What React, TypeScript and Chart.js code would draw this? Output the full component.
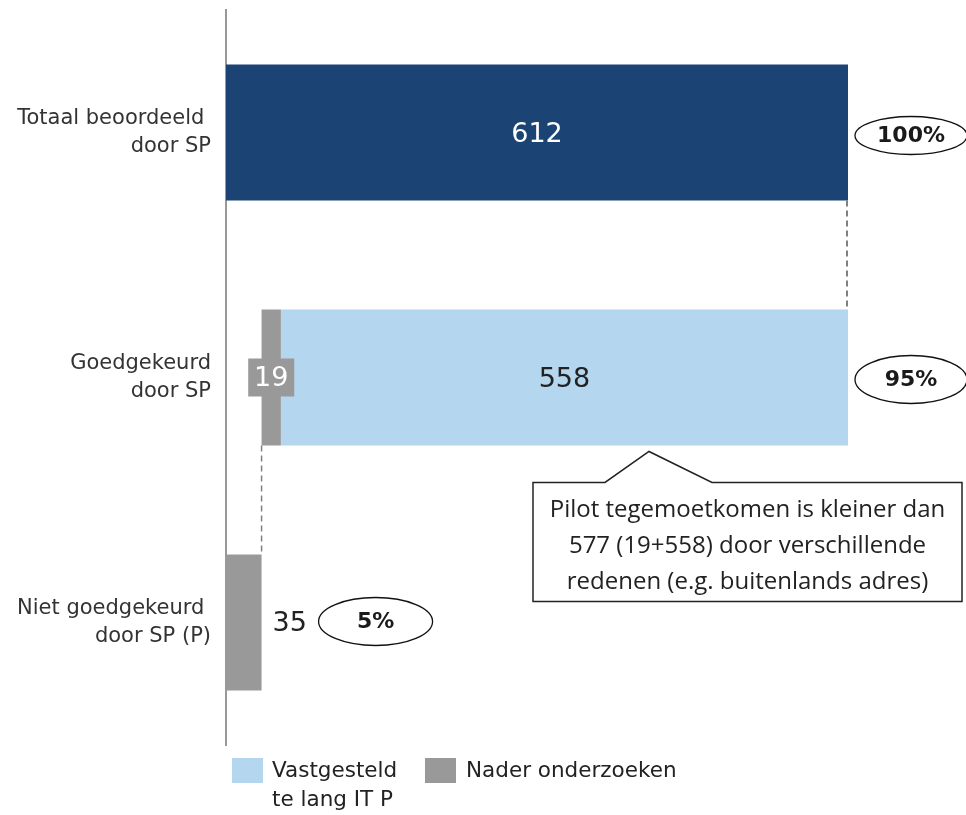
import React, { useEffect, useRef } from "react";
import { Chart, registerables } from "chart.js";

Chart.register(...registerables);

const categories: string[][] = [
  ["Totaal beoordeeld ", "door SP"],
  ["Goedgekeurd", "door SP"],
  ["Niet goedgekeurd ", "door SP (P)"],
];
const offsetValues = [null, 35, null];
const naderValues = [null, 19, 35];
const vastgesteldValues = [null, 558, null];
const totaalValues = [612, null, null];
const pctLabels = ["100%", "95%", "5%"];
const legendLabels = [["Vastgesteld", "te lang IT P"], ["Nader onderzoeken"]];
const calloutLines = [
  "Pilot tegemoetkomen is kleiner dan",
  "577 (19+558) door verschillende",
  "redenen (e.g. buitenlands adres)",
];

const NAVY = "#1b4373";
const LIGHT = "#b4d6ee";
const GRAY = "#999999";
const FONT = "'DejaVu Sans', Verdana, sans-serif";

const overlayPlugin = {
  id: "overlay",
  afterDatasetsDraw(chart: any) {
    const ctx = chart.ctx;
    const x = chart.scales.x;
    const metaNader = chart.getDatasetMeta(1);
    const metaVast = chart.getDatasetMeta(2);
    const metaTot = chart.getDatasetMeta(3);
    const bTot = metaTot.data[0];
    const bVast = metaVast.data[1];
    const bN1 = metaNader.data[1];
    const bN2 = metaNader.data[2];
    const half = (b: any) => b.height / 2;

    ctx.save();
    // dashed connectors
    ctx.strokeStyle = "#808080";
    ctx.setLineDash([6, 4]);
    ctx.lineWidth = 2;
    const xTot = x.getPixelForValue(totaalValues[0] as number);
    ctx.beginPath();
    ctx.moveTo(xTot - 1, bTot.y + half(bTot));
    ctx.lineTo(xTot - 1, bVast.y - half(bVast));
    ctx.stroke();
    ctx.lineWidth = 1.5;
    const xOff = x.getPixelForValue(offsetValues[1] as number);
    ctx.beginPath();
    ctx.moveTo(xOff, bN1.y + half(bN1));
    ctx.lineTo(xOff, bN2.y - half(bN2));
    ctx.stroke();
    ctx.setLineDash([]);

    // value labels
    ctx.textBaseline = "middle";
    ctx.textAlign = "center";
    ctx.font = `27px ${FONT}`;
    ctx.fillStyle = "#ffffff";
    ctx.fillText(String(totaalValues[0]), (bTot.x + bTot.base) / 2, bTot.y + 2);
    ctx.fillStyle = "#222";
    ctx.fillText(String(vastgesteldValues[1]), (bVast.x + bVast.base) / 2, bVast.y + 2);
    // 19 box
    const cx19 = (bN1.x + bN1.base) / 2;
    ctx.fillStyle = GRAY;
    ctx.fillRect(cx19 - 23, bN1.y - 19, 46, 38);
    ctx.fillStyle = "#ffffff";
    ctx.fillText(String(naderValues[1]), cx19, bN1.y + 1);
    // 35
    ctx.textAlign = "left";
    ctx.fillStyle = "#222";
    ctx.fillText(String(naderValues[2]), bN2.x + 11, bN2.y + 1);

    // ellipses
    const ell = (cx: number, cy: number, rx: number, ry: number, t: string) => {
      ctx.beginPath();
      ctx.ellipse(cx, cy, rx, ry, 0, 0, Math.PI * 2);
      ctx.fillStyle = "#fff";
      ctx.fill();
      ctx.strokeStyle = "#111";
      ctx.lineWidth = 1.3;
      ctx.stroke();
      ctx.fillStyle = "#1a1a1a";
      ctx.textAlign = "center";
      ctx.font = `bold 22px ${FONT}`;
      ctx.fillText(t, cx, cy + 1);
    };
    ell(bTot.x + 63, bTot.y + 3, 56, 19, pctLabels[0]);
    ell(bVast.x + 63, bVast.y + 2, 56, 24, pctLabels[1]);
    ell(bN2.x + 114, bN2.y - 1, 57, 24, pctLabels[2]);

    // callout
    const top = bVast.y + half(bVast) + 37;
    const bottom = top + 119;
    const left = 533;
    const right = 962;
    ctx.beginPath();
    ctx.moveTo(left, top);
    ctx.lineTo(605, top);
    ctx.lineTo(649, bVast.y + half(bVast) + 6);
    ctx.lineTo(712, top);
    ctx.lineTo(right, top);
    ctx.lineTo(right, bottom);
    ctx.lineTo(left, bottom);
    ctx.closePath();
    ctx.fillStyle = "#fff";
    ctx.fill();
    ctx.strokeStyle = "#222";
    ctx.lineWidth = 1.5;
    ctx.stroke();
    ctx.fillStyle = "#222";
    ctx.font = `24px 'Open Sans', 'Noto Sans', sans-serif`;
    ctx.textAlign = "center";
    calloutLines.forEach((l, i) => {
      ctx.fillText(l, (left + right) / 2, top + 28 + i * 36);
    });

    // legend
    const ly = chart.chartArea.bottom + 13;
    ctx.font = `21.5px ${FONT}`;
    ctx.textAlign = "left";
    ctx.fillStyle = LIGHT;
    ctx.fillRect(232, ly, 31, 25);
    ctx.fillStyle = "#222";
    legendLabels[0].forEach((l, i) => ctx.fillText(l, 272, ly + 13 + i * 29));
    ctx.fillStyle = GRAY;
    ctx.fillRect(425, ly, 31, 25);
    ctx.fillStyle = "#222";
    legendLabels[1].forEach((l, i) => ctx.fillText(l, 466, ly + 13 + i * 29));
    ctx.restore();
  },
};

export default function App() {
  const ref = useRef<HTMLCanvasElement>(null);
  useEffect(() => {
    if (!ref.current) return;
    const chart = new Chart(ref.current, {
      type: "bar",
      data: {
        labels: categories,
        datasets: [
          { label: "offset", data: offsetValues, backgroundColor: "rgba(0,0,0,0)" },
          { label: "Nader onderzoeken", data: naderValues, backgroundColor: GRAY },
          { label: "Vastgesteld te lang IT P", data: vastgesteldValues, backgroundColor: LIGHT },
          { label: "Totaal", data: totaalValues, backgroundColor: NAVY },
        ] as any,
      },
      options: {
        indexAxis: "y",
        responsive: false,
        animation: false,
        datasets: { bar: { barPercentage: 1, categoryPercentage: 0.555 } },
        layout: { padding: { top: 10, right: 118, bottom: 70, left: 0 } },
        plugins: { legend: { display: false }, tooltip: { enabled: false } },
        scales: {
          x: { stacked: true, display: false, min: 0, max: 612 },
          y: {
            stacked: true,
            grid: { display: false, drawTicks: false },
            border: { display: true, color: "#999", width: 2 },
            ticks: {
              padding: 15,
              color: "#333",
              font: { family: FONT, size: 21, lineHeight: 1.3 },
            },
            afterFit: (s: any) => {
              s.width = 226;
              s.paddingTop = 0;
              s.paddingBottom = 0;
            },
          },
        },
      },
      plugins: [overlayPlugin],
    } as any);
    return () => chart.destroy();
  }, []);
  return (
    <div style={{ position: "absolute", left: 0, top: 0, width: 966, height: 815 }}>
      <canvas ref={ref} width={966} height={815} />
    </div>
  );
}
